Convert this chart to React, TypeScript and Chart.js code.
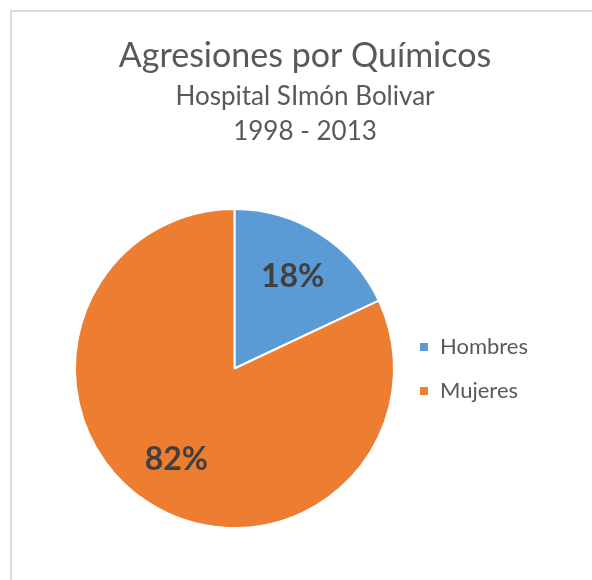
import React, { useEffect, useRef } from "react";
import { Chart, registerables } from "chart.js";

Chart.register(...registerables);

const categories = ["Hombres", "Mujeres"];
const values = [18, 82];
const percentLabels = ["18%", "82%"];
const colors = ["#5B9BD5", "#ED7D31"];
const titleText = "Agresiones por Químicos";
const subtitleLines = ["Hospital SImón Bolivar", "1998 - 2013"];

const FONT = "Lato, 'Open Sans', sans-serif";

const pieLabels = {
  id: "pieLabels",
  afterDatasetsDraw(chart: any) {
    const ctx = chart.ctx;
    const meta = chart.getDatasetMeta(0);
    ctx.save();
    ctx.font = `bold 32px ${FONT}`;
    ctx.fillStyle = "#404040";
    ctx.textAlign = "center";
    ctx.textBaseline = "middle";
    meta.data.forEach((arc: any, i: number) => {
      const p = arc.getProps(["x", "y", "startAngle", "endAngle", "outerRadius"], true);
      const mid = (p.startAngle + p.endAngle) / 2;
      const r = p.outerRadius * 0.68;
      ctx.fillText(percentLabels[i], p.x + Math.cos(mid) * r, p.y + Math.sin(mid) * r);
    });
    ctx.restore();
  },
};

export default function App() {
  const ref = useRef<HTMLCanvasElement>(null);
  useEffect(() => {
    if (!ref.current) return;
    const chart = new Chart(ref.current, {
      type: "pie",
      data: {
        labels: categories,
        datasets: [
          {
            data: values,
            backgroundColor: colors,
            borderColor: "#ffffff",
            borderWidth: 2,
          },
        ],
      },
      options: {
        responsive: false,
        animation: false,
        layout: { padding: { left: 61, right: 65, top: 0, bottom: 61 } },
        plugins: {
          title: {
            display: true,
            text: titleText,
            color: "#595959",
            font: { family: FONT, size: 34, weight: "normal" as any, lineHeight: 1.2 },
            padding: { top: 26, bottom: 3 },
          },
          subtitle: {
            display: true,
            text: subtitleLines,
            color: "#595959",
            font: { family: FONT, size: 26, weight: "normal" as any, lineHeight: 1.33 },
            padding: { top: 0, bottom: 59 },
          },
          legend: {
            position: "right",
            align: "start",
            title: {
              display: true,
              text: " ",
              font: { family: FONT, size: 10, lineHeight: 1 },
              padding: { top: 294, bottom: 0 },
            },
            labels: {
              boxWidth: 10,
              boxHeight: 10,
              padding: 22,
              color: "#595959",
              font: { family: FONT, size: 22 },
            },
          },
          tooltip: { enabled: false },
        },
      },
      plugins: [pieLabels],
    });
    return () => chart.destroy();
  }, []);
  return (
    <div style={{ position: "fixed", left: 0, top: 0, width: 592, height: 580, overflow: "hidden", background: "#fff" }}>
      <div style={{ position: "absolute", left: 10, top: 10, width: 700, height: 700, border: "2px solid #d9d9d9" }} />
      <canvas ref={ref} width={592} height={580} style={{ position: "absolute", left: 11, top: 10 }} />
    </div>
  );
}
